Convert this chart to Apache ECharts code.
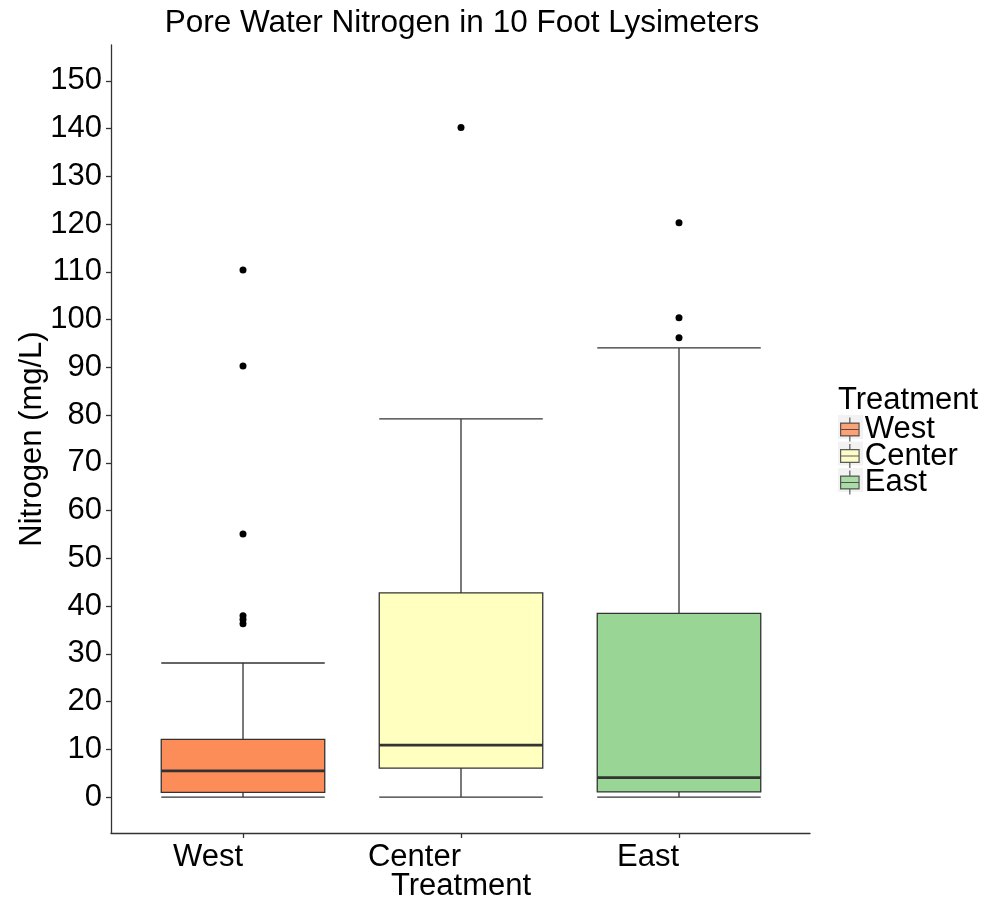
<!DOCTYPE html>
<html>
<head>
<meta charset="utf-8">
<script src="https://cdn.jsdelivr.net/npm/echarts@6/dist/echarts.min.js"></script>
<style>
html,body{margin:0;padding:0;background:#fff;}
#chart{width:989px;height:902px;}
</style>
</head>
<body>
<div id="chart"></div>
<script>
var categories = ['West', 'Center', 'East'];
var fillColors = ['#FC8D59', '#FFFFBF', '#99D594'];
var lowerWhisker = [0, 0, 0];
var q1Values = [1.0, 6.1, 1.1];
var medianValues = [5.5, 10.9, 4.1];
var q3Values = [12.1, 42.8, 38.5];
var upperWhisker = [28.1, 79.2, 94.1];
var outlierCategory = [0, 0, 0, 0, 0, 0, 1, 2, 2, 2];
var outlierValues = [36.3, 37.2, 38.0, 55.1, 90.3, 110.4, 140.2, 96.2, 100.4, 120.3];
var yTickValues = [0, 10, 20, 30, 40, 50, 60, 70, 80, 90, 100, 110, 120, 130, 140, 150];
var yMin = -7.5, yMax = 157.5;

var boxData = categories.map(function (c, i) {
  return {
    value: [lowerWhisker[i], q1Values[i], medianValues[i], q3Values[i], upperWhisker[i]],
    itemStyle: { color: fillColors[i], borderColor: '#333333', borderWidth: 1.3 }
  };
});
var outlierData = outlierValues.map(function (v, i) { return [outlierCategory[i], v]; });
var medianData = medianValues.map(function (v, i) { return [i, v]; });

var FONT = 'Liberation Sans, Arial, sans-serif';
var FS = 31;
var legendIcon = 'path://M0,6 L20,6 L20,20 L0,20 Z M0,13 L20,13 M10,0 L10,6 M10,20 L10,26';

var chart = echarts.init(document.getElementById('chart'), null, { renderer: 'canvas' });
chart.setOption({
  animation: false,
  backgroundColor: '#ffffff',
  title: [{
    text: 'Pore Water Nitrogen in 10 Foot Lysimeters',
    left: 457, top: 2, textAlign: 'center',
    textStyle: { fontFamily: FONT, fontSize: 31.5, fontWeight: 'normal', color: '#000' }
  }, {
    text: 'Treatment',
    left: 833, top: 380,
    textStyle: { fontFamily: FONT, fontSize: FS, fontWeight: 'normal', color: '#000' }
  }],
  graphic: [
    { type: 'rect', left: 838, top: 415, shape: { width: 25, height: 24 }, style: { fill: '#F2F2F2' }, z: 0 },
    { type: 'rect', left: 838, top: 441.5, shape: { width: 25, height: 24 }, style: { fill: '#F2F2F2' }, z: 0 },
    { type: 'rect', left: 838, top: 468, shape: { width: 25, height: 24 }, style: { fill: '#F2F2F2' }, z: 0 }
  ],
  legend: {
    orient: 'vertical',
    left: 840, top: 414,
    itemWidth: 20, itemHeight: 24, itemGap: -4.5,
    textStyle: { fontFamily: FONT, fontSize: FS, color: '#000' },
    padding: 0,
    selectedMode: false,
    data: categories.map(function (c, i) {
      return { name: c, icon: legendIcon, itemStyle: { color: fillColors[i], borderColor: '#333333', borderWidth: 1.2 } };
    })
  },
  grid: [
    { left: 111, right: 179, top: 45, bottom: 69, containLabel: false, outerBoundsMode: 'none' },
    { left: 134, right: 201, top: 45, bottom: 69, containLabel: false, outerBoundsMode: 'none' }
  ],
  xAxis: [{
    gridIndex: 0, type: 'value', min: 0, max: 1,
    axisLine: { show: true, onZero: false, lineStyle: { color: '#333333', width: 1.3 } },
    axisTick: { show: false }, axisLabel: { show: false }, splitLine: { show: false }
  }, {
    gridIndex: 1, type: 'category', data: categories,
    name: 'Treatment', nameLocation: 'middle', nameGap: 38, nameMoveOverlap: false,
    nameTextStyle: { fontFamily: FONT, fontSize: FS, color: '#000' },
    axisLine: { show: false, onZero: false },
    axisTick: { show: true, alignWithLabel: true, length: 5, lineStyle: { color: '#333333', width: 1.3 } },
    axisLabel: { fontFamily: FONT, fontSize: FS, color: '#000', margin: 9, align: 'right' },
    splitLine: { show: false }
  }],
  yAxis: [{
    gridIndex: 0, type: 'value', min: yMin, max: yMax,
    name: 'Nitrogen (mg/L)', nameLocation: 'middle', nameGap: 63, nameRotate: 90, nameMoveOverlap: false,
    nameTextStyle: { fontFamily: FONT, fontSize: FS, color: '#000' },
    axisLine: { show: true, onZero: false, lineStyle: { color: '#333333', width: 1.3 } },
    axisTick: { show: true, length: 5, customValues: yTickValues, lineStyle: { color: '#333333', width: 1.3 } },
    axisLabel: { fontFamily: FONT, fontSize: FS, color: '#000', margin: 9, customValues: yTickValues },
    splitLine: { show: false }
  }, {
    gridIndex: 1, type: 'value', min: yMin, max: yMax, show: false, splitLine: { show: false }
  }],
  series: [{
    type: 'boxplot', xAxisIndex: 1, yAxisIndex: 1,
    boxWidth: ['75%', '75%'],
    data: boxData,
    z: 2
  }, {
    type: 'custom', xAxisIndex: 1, yAxisIndex: 1,
    data: medianData,
    renderItem: function (params, api) {
      var p = api.coord([api.value(0), api.value(1)]);
      var bw = api.size([1, 0])[0] * 0.75;
      return {
        type: 'line',
        shape: { x1: p[0] - bw / 2, y1: p[1], x2: p[0] + bw / 2, y2: p[1] },
        style: { stroke: '#333333', lineWidth: 2.6 }
      };
    },
    z: 3
  }, {
    type: 'scatter', xAxisIndex: 1, yAxisIndex: 1,
    data: outlierData,
    symbolSize: 7,
    itemStyle: { color: '#000000', opacity: 1 },
    z: 4
  }].concat(categories.map(function (c, i) {
    return { type: 'scatter', name: c, xAxisIndex: 1, yAxisIndex: 1, data: [], itemStyle: { color: fillColors[i] } };
  }))
});
</script>
</body>
</html>
